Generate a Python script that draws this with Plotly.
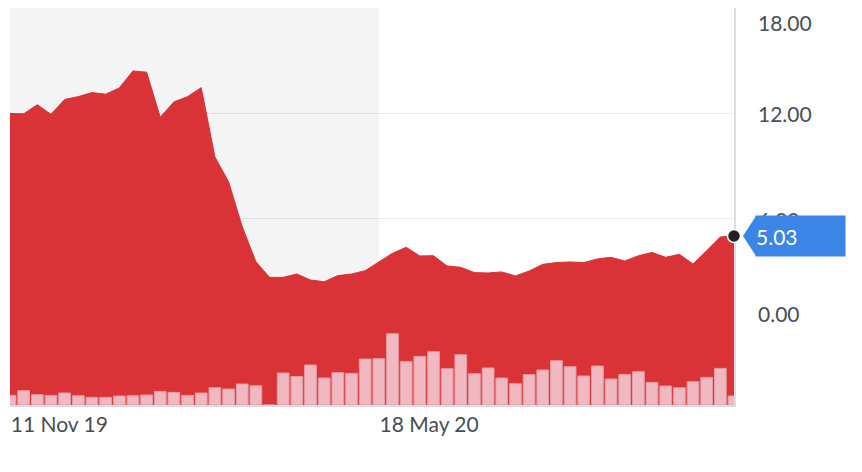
import pandas as pd
import plotly.graph_objects as go

# ---- data ----
start_date = "2019-11-11"
n_weeks = 54
dates = pd.date_range(start_date, periods=n_weeks, freq="7D")

price = [12.00, 11.98, 12.50, 11.95, 12.80, 12.96, 13.19, 13.10, 13.45, 14.42,
         14.35, 11.79, 12.66, 12.96, 13.47, 9.53, 8.12, 5.56, 3.57, 2.68,
         2.68, 2.87, 2.53, 2.43, 2.78, 2.87, 3.06, 3.54, 4.05, 4.39,
         3.90, 3.91, 3.33, 3.25, 2.95, 2.93, 2.99, 2.76, 3.04, 3.42,
         3.52, 3.56, 3.52, 3.73, 3.82, 3.61, 3.91, 4.10, 3.82, 3.99,
         3.44, 4.20, 4.98, 5.03]

volume = [0.96, 1.43, 1.03, 0.96, 1.20, 0.93, 0.76, 0.76, 0.90, 0.93,
          1.00, 1.36, 1.26, 0.96, 1.20, 1.73, 1.60, 2.10, 1.93, 0.00,
          3.20, 2.85, 4.00, 2.70, 3.23, 3.16, 4.60, 4.63, 7.13, 4.36,
          4.86, 5.33, 3.63, 5.03, 3.13, 3.70, 2.70, 2.13, 3.03, 3.50,
          4.43, 3.83, 2.90, 3.90, 2.60, 3.06, 3.33, 2.26, 1.90, 1.73,
          2.33, 2.76, 3.66, 0.90]

x_tick_dates = ["2019-11-11", "2020-05-18"]
x_tick_text = ["11 Nov 19", "18 May 20"]
y_tick_vals = [0, 6, 12, 18]
y_tick_text = ["0.00", "6.00", "12.00", "18.00"]
shade_end = "2020-05-18"

Y_MIN, Y_MAX = -4.58, 18
VOL_MAX = 39.7

# ---- style ----
RED = "#d93337"
BLUE = "#3a85e6"
TEXT = "#464e56"
FONT = "Lato"
FS = 21

fig = go.Figure()

# baseline at the bottom of the plot (axis minimum) so the area fills to the bottom
fig.add_trace(go.Scatter(x=dates, y=[Y_MIN] * len(dates), mode="lines",
                         line=dict(width=0), hoverinfo="skip", showlegend=False))
fig.add_trace(go.Scatter(x=dates, y=price, mode="lines", fill="tonexty",
                         fillcolor=RED, line=dict(color=RED, width=1),
                         showlegend=False))
fig.add_trace(go.Bar(x=dates, y=volume, yaxis="y2",
                     marker=dict(color="#f0b8c0", line=dict(color="#e79ba4", width=1)),
                     showlegend=False))

fig.add_shape(type="rect", xref="x", yref="paper",
              x0=dates[0], x1=shade_end, y0=0, y1=1,
              fillcolor="#f4f4f4", line=dict(width=0), layer="below")

# pointer of the price callout (anchored at the last point = right edge of x range)
fig.add_shape(type="path", xref="paper", yref="y",
              xsizemode="pixel", ysizemode="pixel",
              xanchor=1, yanchor=price[-1],
              path="M 9 0 L 22 20 L 22 -20 Z",
              fillcolor=BLUE, line=dict(width=0), layer="above")
# last point dot
fig.add_shape(type="circle", xref="paper", yref="y",
              xsizemode="pixel", ysizemode="pixel",
              xanchor=1, yanchor=price[-1],
              x0=-6.5, x1=6.5, y0=-6.5, y1=6.5,
              fillcolor="#222222", line=dict(color="white", width=1.5),
              layer="above")

annotations = []
label_shift = {18: -14, 12: 0, 6: -1, 0: 11}
for v, t in zip(y_tick_vals, y_tick_text):
    annotations.append(dict(x=1, xref="paper", y=v, yref="y", text=t,
                            xanchor="left", yanchor="middle", xshift=22,
                            yshift=label_shift[v], showarrow=False,
                            font=dict(family=FONT, size=FS, color=TEXT)))
annotations.append(dict(x=1, xref="paper", y=price[-1], yref="y",
                        text=f"{price[-1]:.2f}", xanchor="left", yanchor="middle",
                        xshift=21, width=89, height=40, align="left",
                        bgcolor=BLUE, borderpad=0, showarrow=False,
                        font=dict(family=FONT, size=FS, color="white")))

fig.update_layout(
    width=862, height=472,
    margin=dict(l=10, r=128, t=8, b=67),
    paper_bgcolor="white", plot_bgcolor="white",
    bargap=0.14,
    showlegend=False,
    annotations=annotations,
    xaxis=dict(type="date", range=[dates[0], dates[-1]],
               tickvals=x_tick_dates, ticktext=x_tick_text,
               ticklabelposition="outside right", ticks="",
               showgrid=False, zeroline=False,
               showline=True, linecolor="#d9dce1", linewidth=1.5,
               tickfont=dict(family=FONT, size=FS, color=TEXT)),
    yaxis=dict(range=[Y_MIN, Y_MAX], side="right", tickvals=y_tick_vals,
               showticklabels=False, ticks="", zeroline=False,
               showgrid=True, gridcolor="rgba(0,0,0,0.08)", gridwidth=1,
               showline=True, linecolor="#d9dce1", linewidth=1.5),
    yaxis2=dict(range=[0, VOL_MAX], overlaying="y", visible=False),
)

fig.write_html("out.html")
